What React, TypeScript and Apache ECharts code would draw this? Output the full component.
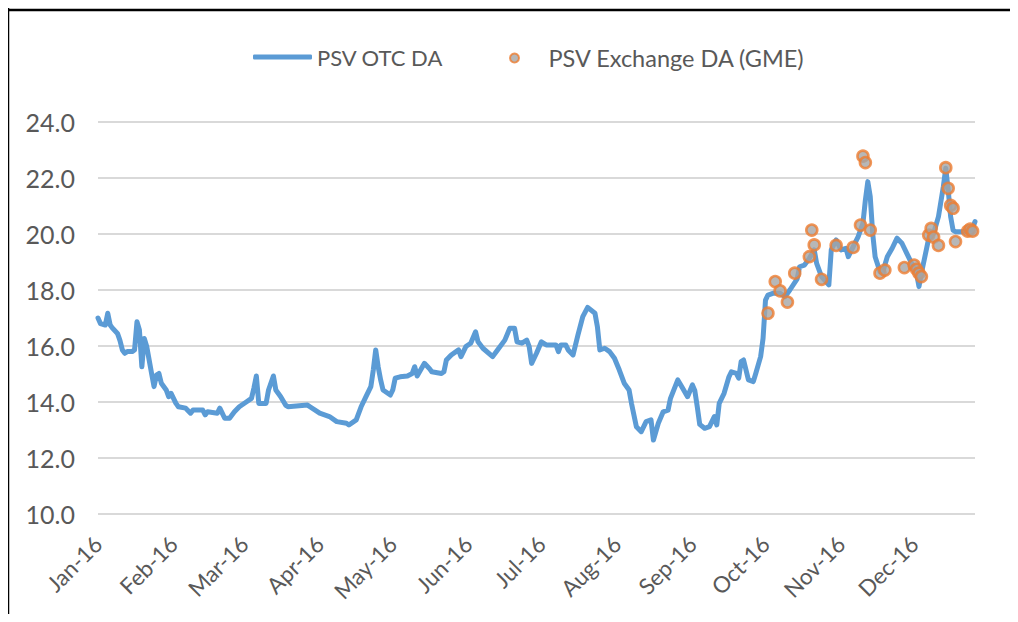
import React, { useEffect, useRef } from "react";
import * as echarts from "echarts";

const YEAR = "2016";
const axisStart = "2016-01-01";
const axisEnd = "2016-12-26";
const monthLabels = ["Jan-16", "Feb-16", "Mar-16", "Apr-16", "May-16", "Jun-16", "Jul-16", "Aug-16", "Sep-16", "Oct-16", "Nov-16", "Dec-16"];

const otcDates = [
  "01-01", "01-02", "01-04", "01-05", "01-06", "01-07", "01-09", "01-10", "01-11", "01-12",
  "01-13", "01-15", "01-16", "01-17", "01-18", "01-19", "01-20", "01-21", "01-22", "01-23",
  "01-24", "01-25", "01-26", "01-27", "01-29", "01-30", "01-31", "02-02", "02-03", "02-06",
  "02-08", "02-09", "02-13", "02-14", "02-15", "02-19", "02-20", "02-21", "02-22", "02-24",
  "02-26", "02-28", "03-02", "03-04", "03-05", "03-06", "03-07", "03-10", "03-11", "03-13",
  "03-14", "03-16", "03-18", "03-19", "03-27", "03-28", "04-01", "04-03", "04-05", "04-08",
  "04-12", "04-13", "04-16", "04-18", "04-20", "04-22", "04-23", "04-24", "04-25", "04-26",
  "04-27", "04-30", "05-01", "05-02", "05-04", "05-07", "05-09", "05-10", "05-11", "05-12",
  "05-14", "05-16", "05-17", "05-21", "05-22", "05-23", "05-25", "05-28", "05-29", "05-31",
  "06-02", "06-04", "06-05", "06-07", "06-11", "06-13", "06-16", "06-18", "06-20", "06-21",
  "06-23", "06-25", "06-26", "06-27", "06-29", "07-01", "07-03", "07-07", "07-08", "07-09",
  "07-11", "07-12", "07-14", "07-16", "07-18", "07-20", "07-23", "07-24", "07-25", "07-27",
  "07-29", "07-31", "08-02", "08-04", "08-06", "08-07", "08-09", "08-11", "08-13", "08-15",
  "08-16", "08-18", "08-20", "08-22", "08-23", "08-26", "08-28", "08-30", "09-01", "09-02",
  "09-03", "09-04", "09-06", "09-08", "09-10", "09-11", "09-12", "09-14", "09-16", "09-17",
  "09-19", "09-20", "09-21", "09-22", "09-24", "09-26", "09-27", "09-29", "09-30", "10-01",
  "10-02", "10-04", "10-07", "10-09", "10-11", "10-14", "10-15", "10-17", "10-19", "10-21",
  "10-22", "10-24", "10-27", "10-28", "10-30", "11-01", "11-03", "11-04", "11-06", "11-08",
  "11-10", "11-11", "11-12", "11-13", "11-14", "11-15", "11-17", "11-18", "11-20", "11-22",
  "11-24", "11-26", "11-28", "11-30", "12-02", "12-03", "12-04", "12-06", "12-07", "12-09",
  "12-11", "12-13", "12-14", "12-15", "12-16", "12-17", "12-18", "12-22", "12-25", "12-26",
];
const otcValues = [
  17.0, 16.8, 16.75, 17.17, 16.75, 16.63, 16.45, 16.2, 15.86, 15.74,
  15.8, 15.8, 15.86, 16.87, 16.57, 15.26, 16.27, 15.98, 15.5, 15.02,
  14.55, 14.96, 15.02, 14.67, 14.43, 14.19, 14.31, 13.95, 13.83, 13.78,
  13.6, 13.71, 13.71, 13.54, 13.65, 13.6, 13.78, 13.6, 13.42, 13.42,
  13.65, 13.83, 14.01, 14.13, 14.5, 14.93, 13.95, 13.95, 14.43, 14.93,
  14.43, 14.19, 13.89, 13.83, 13.89, 13.83, 13.6, 13.54, 13.48, 13.3,
  13.24, 13.18, 13.36, 13.83, 14.19, 14.55, 15.14, 15.86, 15.26, 14.8,
  14.43, 14.25, 14.43, 14.85, 14.9, 14.93, 15.02, 15.26, 14.93, 15.08,
  15.38, 15.2, 15.08, 15.02, 15.08, 15.5, 15.68, 15.86, 15.62, 15.98,
  16.1, 16.51, 16.15, 15.92, 15.62, 15.86, 16.21, 16.63, 16.63, 16.15,
  16.1, 16.21, 15.98, 15.38, 15.74, 16.15, 16.04, 16.04, 15.8, 16.04,
  16.04, 15.86, 15.68, 16.39, 17.05, 17.38, 17.17, 16.69, 15.86, 15.92,
  15.8, 15.56, 15.14, 14.67, 14.43, 13.95, 13.12, 12.94, 13.3, 13.36,
  12.64, 13.24, 13.65, 13.71, 14.13, 14.79, 14.49, 14.19, 14.61, 14.4,
  13.83, 13.2, 13.06, 13.12, 13.48, 13.18, 13.95, 14.31, 14.9, 15.08,
  15.02, 14.85, 15.44, 15.5, 14.79, 14.73, 15.02, 15.62, 16.27, 17.64,
  17.82, 17.88, 17.88, 17.76, 18.0, 18.4, 18.83, 18.89, 19.13, 19.43,
  18.95, 18.48, 18.18, 19.43, 19.79, 19.43, 19.49, 19.19, 19.55, 19.9,
  20.38, 21.21, 21.87, 21.33, 20.02, 19.19, 18.65, 18.6, 19.19, 19.49,
  19.85, 19.67, 19.31, 18.95, 18.6, 18.12, 18.6, 19.43, 19.85, 20.02,
  20.62, 21.69, 22.35, 21.57, 20.62, 20.14, 20.08, 20.08, 20.2, 20.44,
];

const gmeDates = [
  "10-02", "10-05", "10-07", "10-10", "10-13", "10-19", "10-20", "10-21", "10-24", "10-30",
  "11-06", "11-09", "11-10", "11-11", "11-13", "11-17", "11-19", "11-27", "12-01", "12-02",
  "12-03", "12-04", "12-07", "12-08", "12-09", "12-11", "12-14", "12-15", "12-16", "12-17",
  "12-18", "12-23", "12-24", "12-25",
];
const gmeValues = [
  17.17, 18.3, 17.97, 17.57, 18.6, 19.19, 20.14, 19.61, 18.38, 19.59,
  19.52, 20.32, 22.78, 22.55, 20.14, 18.6, 18.71, 18.8, 18.89, 18.74,
  18.6, 18.48, 19.96, 20.2, 19.89, 19.59, 22.37, 21.63, 21.02, 20.92,
  19.73, 20.1, 20.17, 20.1,
];

const yMin = 10;
const yMax = 24;
const yStep = 2;

function buildDays(): string[] {
  const out: string[] = [];
  const start = new Date(axisStart + "T00:00:00Z").getTime();
  const end = new Date(axisEnd + "T00:00:00Z").getTime();
  for (let t = start; t <= end; t += 86400000) {
    out.push(new Date(t).toISOString().slice(0, 10));
  }
  return out;
}

const FONT = "Lato";
const TEXT = "#595959";
const W = 1010;
const H = 606;

export default function App() {
  const ref = useRef<HTMLDivElement>(null);
  useEffect(() => {
    if (!ref.current) return;
    const chart = echarts.init(ref.current, undefined, { renderer: "svg" });
    const days = buildDays();
    const otcData = otcDates.map((d, i) => [YEAR + "-" + d, otcValues[i]]);
    const gmeData = gmeDates.map((d, i) => [YEAR + "-" + d, gmeValues[i]]);
    chart.setOption({
      animation: false,
      textStyle: { fontFamily: FONT },
      legend: [
        {
          data: ["PSV OTC DA"],
          left: 245,
          top: 38,
          padding: 0,
          icon: "roundRect",
          itemWidth: 59,
          itemHeight: 5,
          textStyle: { fontFamily: FONT, fontSize: 22, color: TEXT },
        },
        {
          data: ["PSV Exchange DA (GME)"],
          left: 501,
          top: 38,
          padding: 0,
          icon: "circle",
          itemWidth: 58,
          itemHeight: 9,
          textStyle: { fontFamily: FONT, fontSize: 23.5, color: TEXT },
        },
      ],
      grid: { left: 90, right: W - 967, top: 114, bottom: H - 506, containLabel: false },
      xAxis: {
        type: "category",
        data: days,
        boundaryGap: false,
        axisLine: { show: false },
        axisTick: { show: false },
        splitLine: { show: false },
        axisLabel: {
          rotate: 45,
          margin: 26,
          fontFamily: FONT,
          fontSize: 22.5,
          color: TEXT,
          interval: (_i: number, v: string) => v.slice(8, 10) === "01",
          formatter: (v: string) => monthLabels[parseInt(v.slice(5, 7), 10) - 1],
        },
      },
      yAxis: {
        type: "value",
        min: yMin,
        max: yMax,
        interval: yStep,
        axisLine: { show: false },
        axisTick: { show: false },
        splitLine: { lineStyle: { color: "#d9d9d9", width: 2 } },
        axisLabel: {
          margin: 23,
          fontFamily: FONT,
          fontSize: 25,
          color: TEXT,
          formatter: (v: number) => v.toFixed(1),
        },
      },
      graphic: [
        { type: "line", shape: { x1: 0, y1: 0, x2: 0, y2: H }, style: { stroke: "#000", lineWidth: 2.5 } },
        { type: "line", shape: { x1: 0, y1: 2, x2: W, y2: 2 }, style: { stroke: "#000", lineWidth: 2.5 } },
      ],
      series: [
        {
          name: "PSV OTC DA",
          type: "line",
          data: otcData,
          showSymbol: false,
          symbol: "none",
          itemStyle: { color: "#5b9bd5" },
          lineStyle: { color: "#5b9bd5", width: 5, cap: "round", join: "round" },
          z: 2,
        },
        {
          name: "PSV Exchange DA (GME)",
          type: "scatter",
          data: gmeData,
          symbol: "circle",
          symbolSize: 11,
          itemStyle: { color: "#a5a5a5", borderColor: "#ed7d31", borderWidth: 2.6 },
          z: 3,
        },
      ],
    });
    return () => chart.dispose();
  }, []);
  return <div ref={ref} style={{ width: W, height: H }} />;
}
